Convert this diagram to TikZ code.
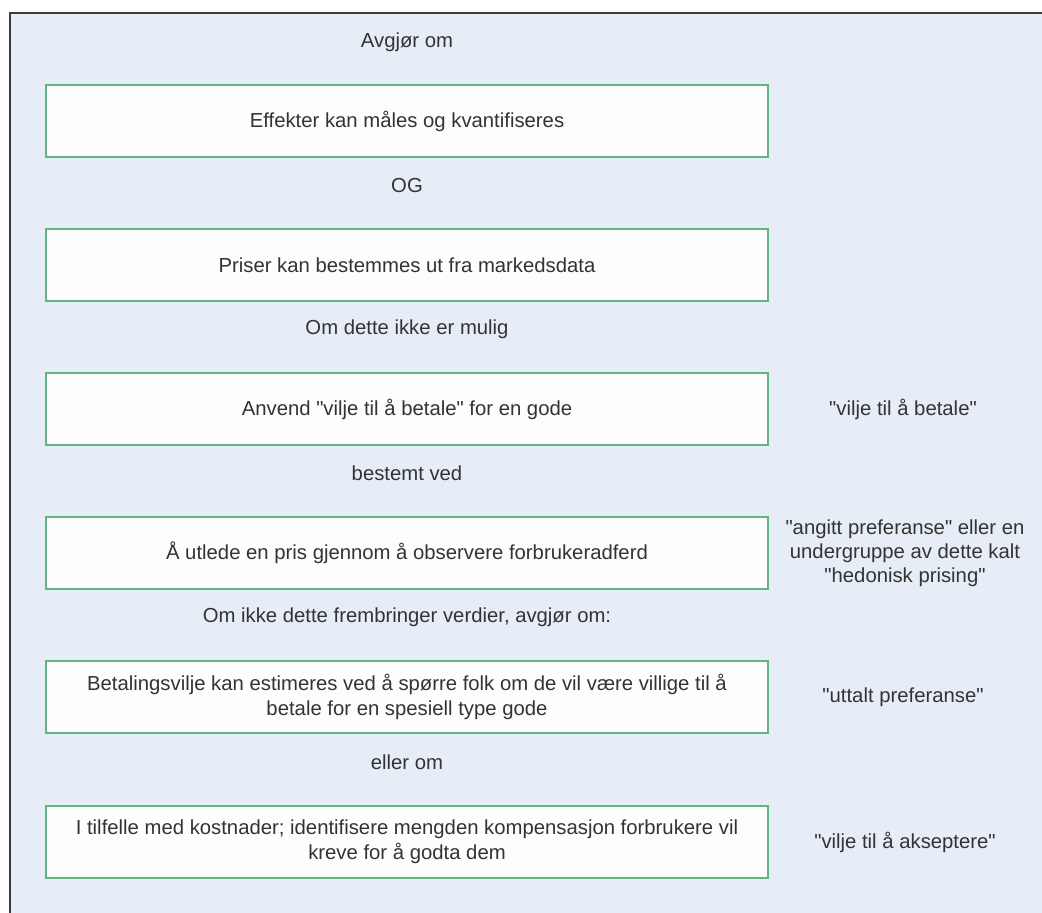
\documentclass[tikz,border=0pt]{standalone}
\usepackage{fontspec}
\setmainfont{Liberation Sans}[Ligatures=TeXOff]
\usepackage{tikz}

\definecolor{panelbg}{HTML}{E6EDF7}
\definecolor{boxline}{HTML}{62B485}
\definecolor{boxfill}{HTML}{FDFDFD}
\definecolor{frameline}{HTML}{3C3C3C}
\definecolor{txt}{HTML}{333333}

\tikzset{
  stepbox/.style={draw=boxline, fill=boxfill, line width=1.6pt, minimum width=722pt,
    minimum height=72pt, inner sep=0pt, align=center, text=txt,
    font=\fontsize{20.3}{25}\selectfont},
  midlabel/.style={inner sep=0pt, text=txt, font=\fontsize{20.3}{24}\selectfont},
  sidelabel/.style={inner sep=0pt, align=center, text=txt, font=\fontsize{20.3}{24}\selectfont}
}

\begin{document}
\begin{tikzpicture}[x=1pt,y=-1pt]
    \useasboundingbox (0,0) rectangle (1042,913);
    \fill[white] (0,0) rectangle (1042,913);
    \fill[panelbg] (10,13) rectangle (1042,913);
    \draw[frameline, line width=2pt] (10,913) -- (10,13) -- (1042,13);

    \node[midlabel] (avgjor) at (407,42) {Avgjør om};
    \node[stepbox] (effekter) at (407,121) {Effekter kan måles og kvantifiseres};
    \node[midlabel] (og) at (407,186) {OG};
    \node[stepbox] (priser) at (407,265) {Priser kan bestemmes ut fra markedsdata};
    \node[midlabel] (ommulig) at (407,329) {Om dette ikke er mulig};
    \node[stepbox] (anvend) at (407,409) {Anvend "vilje til å betale" for en gode};
    \node[midlabel] (bestemt) at (407,473) {bestemt ved};
    \node[stepbox] (utlede) at (407,553) {Å utlede en pris gjennom å observere forbrukeradferd};
    \node[midlabel] (omikke) at (407,617) {Om ikke dette frembringer verdier, avgjør om:};
    \node[stepbox] (betaling) at (407,697) {Betalingsvilje kan estimeres ved å spørre folk om de vil være villige til å\\betale for en spesiell type gode};
    \node[midlabel] (elleom) at (407,762) {eller om};
    \node[stepbox] (tilfelle) at (407,842) {I tilfelle med kostnader; identifisere mengden kompensasjon forbrukere vil\\kreve for å godta dem};

    \node[sidelabel] (wtp) at (903,409) {"vilje til å betale"};
    \node[sidelabel] (angitt) at (905,553) {"angitt preferanse" eller en\\undergruppe av dette kalt\\"hedonisk prising"};
    \node[sidelabel] (uttalt) at (903,697) {"uttalt preferanse"};
    \node[sidelabel] (wta) at (905,842) {"vilje til å akseptere"};
  \end{tikzpicture}
\end{document}
